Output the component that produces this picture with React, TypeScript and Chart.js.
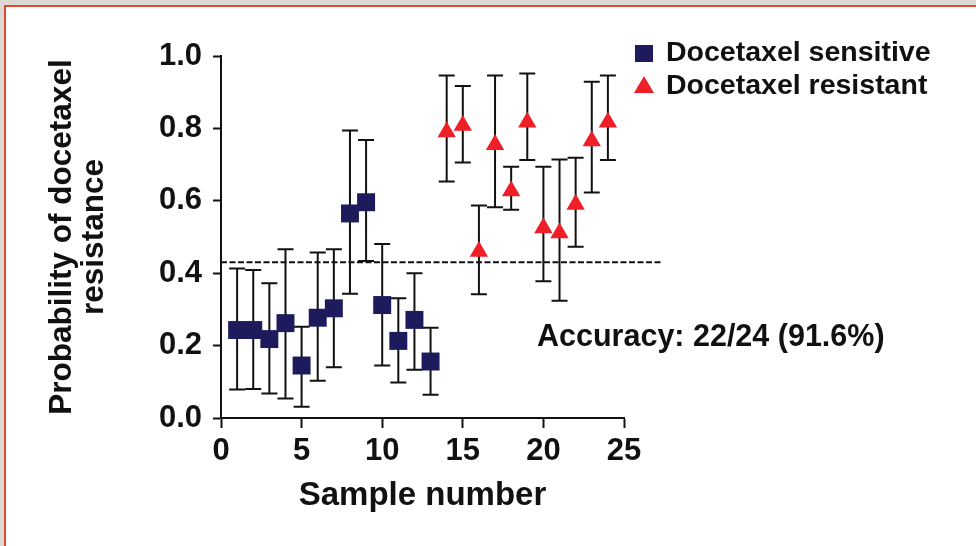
import React, { useEffect, useRef } from "react";
import { Chart, registerables } from "chart.js";

Chart.register(...registerables);

// ---- data ----
const sensitiveX = [1, 2, 3, 4, 5, 6, 7, 8, 9, 10, 11, 12, 13];
const sensitiveY = [0.243, 0.243, 0.218, 0.262, 0.145, 0.277, 0.303, 0.565, 0.596, 0.312, 0.213, 0.271, 0.156];
const sensitiveHigh = [0.413, 0.409, 0.372, 0.466, 0.252, 0.457, 0.466, 0.794, 0.768, 0.481, 0.331, 0.4, 0.249];
const sensitiveLow = [0.079, 0.08, 0.068, 0.054, 0.031, 0.103, 0.14, 0.343, 0.434, 0.145, 0.098, 0.133, 0.064];

const resistantX = [14, 15, 16, 17, 18, 19, 20, 21, 22, 23, 24];
const resistantY = [0.79, 0.808, 0.46, 0.755, 0.627, 0.817, 0.525, 0.511, 0.59, 0.765, 0.817];
const resistantHigh = [0.946, 0.917, 0.587, 0.946, 0.694, 0.952, 0.694, 0.714, 0.719, 0.929, 0.946];
const resistantLow = [0.653, 0.706, 0.342, 0.582, 0.575, 0.713, 0.378, 0.324, 0.473, 0.623, 0.713];

const threshold = 0.43;
const xTickValues = [0, 5, 10, 15, 20, 25];
const yTickValues = [0, 0.2, 0.4, 0.6, 0.8, 1.0];

const legendLabels = ["Docetaxel sensitive", "Docetaxel resistant"];
const accuracyText = "Accuracy: 22/24 (91.6%)";
const xTitle = "Sample number";
const yTitle = ["Probability of docetaxel", "resistance"];

const NAVY = "#1d1b5c";
const RED = "#ee1f26";
const INK = "#111111";
const FONT = "'Liberation Sans', Arial, sans-serif";

export default function App() {
  const ref = useRef<HTMLCanvasElement | null>(null);

  useEffect(() => {
    document.body.style.margin = "0";
    const canvas = ref.current;
    if (!canvas) return;

    const errorBars = {
      id: "errorBars",
      beforeDatasetsDraw(chart: any) {
        const { ctx, scales, chartArea } = chart;
        const xs = scales.x;
        const ys = scales.y;
        ctx.save();
        // threshold dashed line
        ctx.strokeStyle = INK;
        ctx.lineWidth = 2;
        ctx.setLineDash([6, 2.5]);
        const ty = ys.getPixelForValue(threshold);
        ctx.beginPath();
        ctx.moveTo(chartArea.left, ty);
        ctx.lineTo(chartArea.right + 38, ty);
        ctx.stroke();
        ctx.setLineDash([]);
        // error bars
        const cap = 8;
        const draw = (xv: number[], lo: number[], hi: number[]) => {
          ctx.beginPath();
          xv.forEach((x, i) => {
            const px = xs.getPixelForValue(x);
            const pl = ys.getPixelForValue(lo[i]);
            const ph = ys.getPixelForValue(hi[i]);
            ctx.moveTo(px, ph);
            ctx.lineTo(px, pl);
            ctx.moveTo(px - cap, ph);
            ctx.lineTo(px + cap, ph);
            ctx.moveTo(px - cap, pl);
            ctx.lineTo(px + cap, pl);
          });
          ctx.stroke();
        };
        ctx.lineWidth = 2;
        draw(sensitiveX, sensitiveLow, sensitiveHigh);
        draw(resistantX, resistantLow, resistantHigh);
        ctx.restore();
      },
    };

    const overlay = {
      id: "overlay",
      afterDraw(chart: any) {
        const { ctx } = chart;
        ctx.save();
        // legend
        ctx.fillStyle = NAVY;
        ctx.fillRect(635, 45, 18, 17);
        ctx.fillStyle = RED;
        ctx.beginPath();
        ctx.moveTo(644, 76);
        ctx.lineTo(654, 93);
        ctx.lineTo(634, 93);
        ctx.closePath();
        ctx.fill();
        ctx.fillStyle = INK;
        ctx.font = `bold 28.5px ${FONT}`;
        ctx.textBaseline = "alphabetic";
        ctx.textAlign = "left";
        ctx.fillText(legendLabels[0], 666, 61);
        ctx.fillText(legendLabels[1], 666, 94);
        // accuracy
        ctx.font = `bold 30.5px ${FONT}`;
        ctx.fillText(accuracyText, 537, 346);
        ctx.restore();
      },
    };

    const chart = new Chart(canvas, {
      type: "scatter",
      data: {
        datasets: [
          {
            label: legendLabels[0],
            data: sensitiveX.map((x, i) => ({ x, y: sensitiveY[i] })),
            pointStyle: "rect",
            pointRadius: 12.7,
            pointHoverRadius: 12.7,
            backgroundColor: NAVY,
            borderColor: NAVY,
            borderWidth: 0,
          },
          {
            label: legendLabels[1],
            data: resistantX.map((x, i) => ({ x, y: resistantY[i] })),
            pointStyle: "triangle",
            pointRadius: 10.6,
            pointHoverRadius: 10.6,
            backgroundColor: RED,
            borderColor: RED,
            borderWidth: 0,
          },
        ],
      },
      options: {
        responsive: false,
        animation: false,
        devicePixelRatio: 1,
        layout: { padding: { left: 0, top: 56, right: 352, bottom: 0 } },
        plugins: { legend: { display: false }, tooltip: { enabled: false } },
        scales: {
          x: {
            type: "linear",
            min: 0,
            max: 25,
            afterFit(s: any) {
              s.height = 128;
            },
            afterBuildTicks(s: any) {
              s.ticks = xTickValues.map((v) => ({ value: v }));
            },
            ticks: {
              autoSkip: false,
              maxRotation: 0,
              padding: 5,
              color: INK,
              font: { family: FONT, size: 31, weight: "bold" },
            },
            grid: {
              drawOnChartArea: false,
              drawTicks: true,
              tickLength: 10,
              tickWidth: 2,
              tickColor: INK,
            },
            border: { display: true, width: 2, color: INK },
            title: {
              display: true,
              text: xTitle,
              color: INK,
              font: { family: FONT, size: 33, weight: "bold", lineHeight: 1.2 },
              padding: { top: 0, bottom: 30 },
            },
          },
          y: {
            type: "linear",
            min: 0,
            max: 1,
            afterFit(s: any) {
              s.width = 221;
            },
            afterBuildTicks(s: any) {
              s.ticks = yTickValues.map((v) => ({ value: v }));
            },
            ticks: {
              autoSkip: false,
              padding: 11,
              color: INK,
              font: { family: FONT, size: 31, weight: "bold" },
              callback: (v: any) => Number(v).toFixed(1),
            },
            grid: {
              drawOnChartArea: false,
              drawTicks: true,
              tickLength: 8,
              tickWidth: 2,
              tickColor: INK,
            },
            border: { display: true, width: 2, color: INK },
            title: {
              display: true,
              text: yTitle,
              color: INK,
              font: { family: FONT, size: 31.5, weight: "bold", lineHeight: 1.0 },
              padding: { top: 47, bottom: 0 },
            },
          },
        },
      },
      plugins: [errorBars, overlay],
    } as any);

    return () => chart.destroy();
  }, []);

  return (
    <div
      style={{
        position: "relative",
        width: 976,
        height: 546,
        overflow: "hidden",
        background: "#dcd8d4",
      }}
    >
      <div
        style={{
          position: "absolute",
          left: 4,
          top: 5,
          width: 990,
          height: 560,
          background: "#ffffff",
          borderLeft: "2px solid #e4482c",
          borderTop: "2px solid #e4482c",
          boxSizing: "border-box",
        }}
      />
      <canvas
        ref={ref}
        width={976}
        height={546}
        style={{ position: "absolute", left: 0, top: 0, display: "block" }}
      />
    </div>
  );
}
